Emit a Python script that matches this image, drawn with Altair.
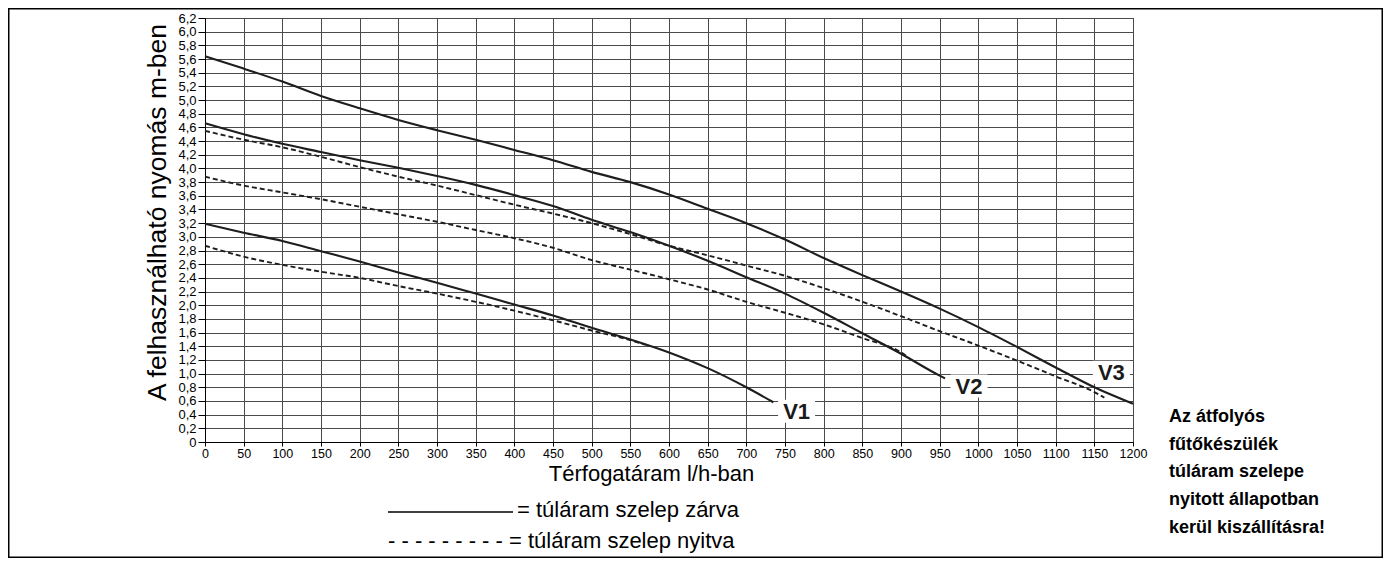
import altair as alt
import pandas as pd

# ---- data ----
v3_closed_x = [0, 50, 100, 150, 200, 250, 300, 350, 400, 450, 500, 550, 600, 650, 700, 750, 800, 850, 900, 950, 1000, 1050, 1100, 1150, 1200]
v3_closed_y = [5.64, 5.46, 5.27, 5.06, 4.88, 4.71, 4.56, 4.42, 4.27, 4.12, 3.95, 3.80, 3.62, 3.41, 3.20, 2.96, 2.69, 2.44, 2.20, 1.95, 1.68, 1.39, 1.09, 0.80, 0.56]

v3_open_x = [0, 50, 100, 150, 200, 250, 300, 350, 400, 450, 500, 550, 600, 650, 700, 750, 800, 850, 900, 950, 1000, 1050, 1100, 1150, 1163]
v3_open_y = [4.55, 4.42, 4.31, 4.17, 4.02, 3.88, 3.75, 3.61, 3.47, 3.34, 3.20, 3.04, 2.87, 2.73, 2.58, 2.43, 2.25, 2.05, 1.84, 1.62, 1.41, 1.19, 0.96, 0.73, 0.65]

v2_closed_x = [0, 50, 100, 150, 200, 250, 300, 350, 400, 450, 500, 550, 600, 650, 700, 750, 800, 850, 900, 950, 957]
v2_closed_y = [4.66, 4.50, 4.36, 4.24, 4.12, 4.01, 3.89, 3.76, 3.61, 3.45, 3.25, 3.07, 2.87, 2.65, 2.41, 2.17, 1.89, 1.59, 1.29, 0.97, 0.93]

v2_open_x = [0, 50, 100, 150, 200, 250, 300, 350, 400, 450, 500, 550, 600, 650, 700, 750, 800, 850, 900, 908]
v2_open_y = [3.88, 3.75, 3.65, 3.55, 3.44, 3.33, 3.22, 3.10, 2.98, 2.84, 2.66, 2.52, 2.38, 2.23, 2.05, 1.89, 1.72, 1.52, 1.31, 1.25]

v1_closed_x = [0, 50, 100, 150, 200, 250, 300, 350, 400, 450, 500, 550, 600, 650, 700, 735]
v1_closed_y = [3.19, 3.06, 2.94, 2.79, 2.64, 2.48, 2.33, 2.17, 2.01, 1.85, 1.67, 1.50, 1.31, 1.08, 0.80, 0.58]

v1_open_x = [0, 50, 100, 150, 200, 250, 300, 350, 400, 450, 500, 550, 570]
v1_open_y = [2.87, 2.71, 2.59, 2.49, 2.40, 2.28, 2.17, 2.05, 1.92, 1.78, 1.63, 1.49, 1.42]

label_names = ["V1", "V2", "V3"]
label_x = [765, 988, 1172]
label_y = [0.45, 0.82, 1.02]

x_ticks = list(range(0, 1201, 50))
y_ticks = [round(i * 0.2, 1) for i in range(32)]

note_lines = ["Az átfolyós", "fűtőkészülék", "túláram szelepe", "nyitott állapotban", "kerül kiszállításra!"]

# ---- tables ----
def mk(name, xs, ys):
    return pd.DataFrame({"curve": name, "q": xs, "h": ys})

closed = pd.concat([mk("V3", v3_closed_x, v3_closed_y),
                    mk("V2", v2_closed_x, v2_closed_y),
                    mk("V1", v1_closed_x, v1_closed_y)])
opened = pd.concat([mk("V3", v3_open_x, v3_open_y),
                    mk("V2", v2_open_x, v2_open_y),
                    mk("V1", v1_open_x, v1_open_y)])
labels = pd.DataFrame({"name": label_names, "q": label_x, "h": label_y})

W, H = 928, 424
FONT = "Liberation Sans"

xs = alt.Scale(domain=[0, 1200], nice=False, zero=True)
ys = alt.Scale(domain=[0, 6.2], nice=False, zero=True)

x_axis = alt.Axis(
    values=x_ticks, format="d", title="Térfogatáram l/h-ban", grid=True,
    labelOverlap=False, labelFlush=False, tickSize=4, labelPadding=1, labelFontSize=12.5,
    titleFontSize=22, titleFontWeight="normal", titleFont=FONT,
    titleX=446, titleY=38, titleAlign="center", titleBaseline="alphabetic")
y_axis = alt.Axis(
    values=y_ticks, title="A felhasználható nyomás m-ben", grid=True,
    labelOverlap=False, labelFlush=False, tickSize=7, labelPadding=2,
    labelExpr="datum.value == 0 ? '0' : replace(format(datum.value, '.1f'), '.', ',')",
    titleFontSize=26.5, titleFontWeight="normal", titleFont=FONT,
    titleX=-40, titleY=194, titleAngle=270, titleAlign="center", titleBaseline="alphabetic")

def X():
    return alt.X("q:Q", scale=xs, axis=x_axis)

def Y():
    return alt.Y("h:Q", scale=ys, axis=y_axis)

solid = alt.Chart(closed).mark_line(color="#1e1e1e", strokeWidth=2.1, interpolate="monotone").encode(
    x=X(), y=Y(), detail="curve:N")
dashed = alt.Chart(opened).mark_line(color="#1e1e1e", strokeWidth=1.9, strokeDash=[5, 3], interpolate="monotone").encode(
    x=X(), y=Y(), detail="curve:N")

boxes = alt.Chart(labels).mark_point(
    shape="M-1,-0.62H1V0.62H-1Z", size=1369, filled=True, fill="white", opacity=1, strokeWidth=0
).encode(x=X(), y=Y())
texts = alt.Chart(labels).mark_text(
    fontSize=22, fontWeight="bold", font=FONT, color="#1a1a1a", baseline="middle", align="center", dy=1
).encode(x=X(), y=Y(), text="name:N")

one = pd.DataFrame({"a": [0]})
legend_line = alt.Chart(one).mark_rule(color="black", strokeWidth=1.3).encode(
    x=alt.value(183), x2=alt.value(308), y=alt.value(494))
legend_t1 = alt.Chart(one).mark_text(fontSize=22, font=FONT, align="left", baseline="alphabetic", color="black").encode(
    x=alt.value(312), y=alt.value(499), text=alt.value("= túláram szelep zárva"))
legend_t2 = alt.Chart(one).mark_text(fontSize=22, font=FONT, align="left", baseline="alphabetic", color="black").encode(
    x=alt.value(183), y=alt.value(530), text=alt.value("- - - - - - - - -  = túláram szelep nyitva"))

note = alt.Chart(one).mark_text(fontSize=18, fontWeight="bold", font=FONT, align="left", baseline="middle",
                                lineHeight=27.7, color="black").encode(
    x=alt.value(964), y=alt.value(399), text=alt.value(note_lines))

border = alt.Chart(one).mark_rect(filled=False, stroke="black", strokeWidth=1.5).encode(
    x=alt.value(-196.25), x2=alt.value(1177.25), y=alt.value(-9.25), y2=alt.value(539.25))

chart = alt.layer(solid, dashed, boxes, texts, legend_line, legend_t1, legend_t2, note, border).properties(
    width=W, height=H,
    background="white",
    autosize=alt.AutoSizeParams(type="none"),
    padding={"left": 197, "top": 10, "right": 250, "bottom": 116},
).configure_view(stroke="#222", strokeWidth=1).configure_axis(
    labelFont=FONT, labelFontSize=13, labelColor="black",
    tickColor="black", domainColor="black", domainWidth=1,
    gridColor="#4a4a4a", gridWidth=1, gridOpacity=1, titleColor="black"
)

chart.save("out.html", embed_options={"renderer": "svg", "actions": False})
